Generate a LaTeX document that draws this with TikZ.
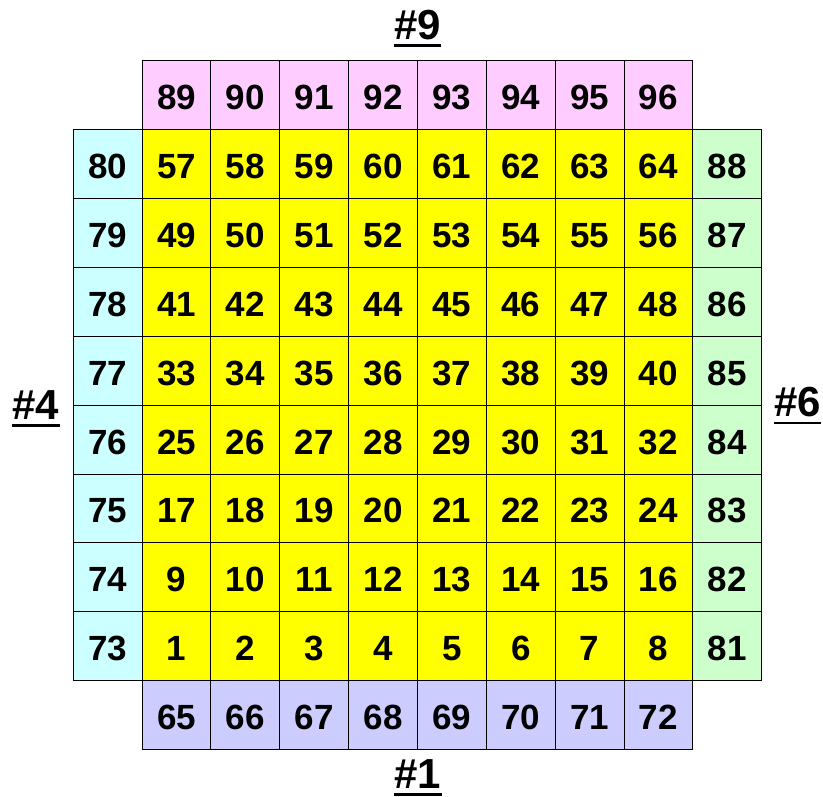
\documentclass[tikz,border=0pt]{standalone}
\usepackage{fontspec}
\setmainfont{Liberation Sans}
\usetikzlibrary{calc}
\definecolor{cpink}{RGB}{255,204,255}
\definecolor{ccyan}{RGB}{204,255,255}
\definecolor{cgreen}{RGB}{204,255,204}
\definecolor{clav}{RGB}{204,204,255}
\definecolor{cyellow}{RGB}{255,255,0}
\begin{document}
\begin{tikzpicture}[x=1pt,y=-1pt,
  cell/.style={draw=black,line width=1pt,minimum size=68.84pt,inner sep=0pt,text height=29pt,text depth=0pt,
    font=\bfseries\fontsize{35}{40}\selectfont},
  lab/.style={inner sep=0pt,anchor=base,font=\bfseries\fontsize{42}{48}\selectfont},
  uline/.style={line width=2.7pt}]
\useasboundingbox (0,0) rectangle (823,797);
% main yellow block
\foreach \r in {1,...,8}{
  \foreach \c in {1,...,8}{
    \pgfmathtruncatemacro\n{(8-\r)*8+\c}
    \node[cell,fill=cyellow] (n\n) at ({73.3+(\c+0.5)*68.84},{61+(\r+0.5)*68.84}) {\n};
  }
}
% top row (pink)
\foreach \c in {1,...,8}{
  \pgfmathtruncatemacro\n{88+\c}
  \node[cell,fill=cpink] (n\n) at ({73.3+(\c+0.5)*68.84},{61+0.5*68.84}) {\n};
}
% bottom row (lavender)
\foreach \c in {1,...,8}{
  \pgfmathtruncatemacro\n{64+\c}
  \node[cell,fill=clav] (n\n) at ({73.3+(\c+0.5)*68.84},{61+9.5*68.84}) {\n};
}
% left column (cyan)
\foreach \r in {1,...,8}{
  \pgfmathtruncatemacro\n{81-\r}
  \node[cell,fill=ccyan] (n\n) at ({73.3+0.5*68.84},{61+(\r+0.5)*68.84}) {\n};
}
% right column (green)
\foreach \r in {1,...,8}{
  \pgfmathtruncatemacro\n{89-\r}
  \node[cell,fill=cgreen] (n\n) at ({73.3+9.5*68.84},{61+(\r+0.5)*68.84}) {\n};
}
% side labels
\node[lab] (l9) at (417.5,39.3) {\#9};
\node[lab] (l1) at (418,788.5) {\#1};
\node[lab] (l4) at (36,419) {\#4};
\node[lab] (l6) at (797.5,416.7) {\#6};
\foreach \l in {l9,l1,l4,l6}{
  \draw[uline] ($(\l.base west)+(0,6.3)$) -- ($(\l.base east)+(0,6.3)$);
}
\end{tikzpicture}
\end{document}
